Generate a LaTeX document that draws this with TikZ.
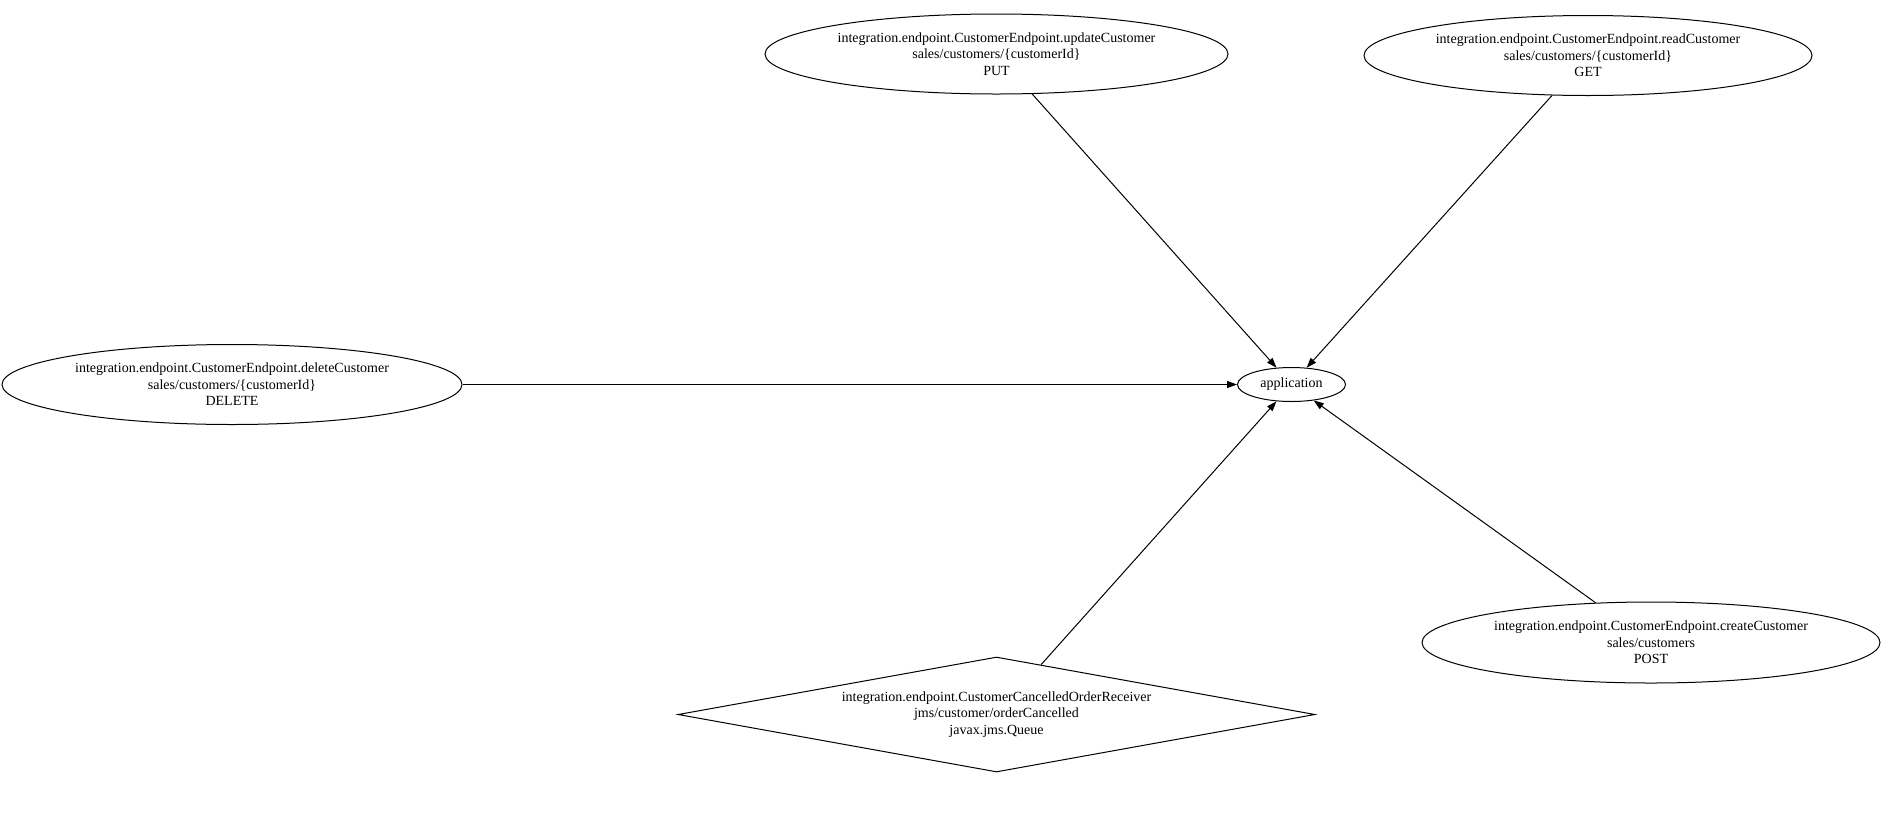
\documentclass[tikz,border=0pt]{standalone}
\usepackage{fontspec}
\setmainfont{Liberation Serif}
\usetikzlibrary{shapes.geometric, arrows.meta}

\begin{document}
\begin{tikzpicture}[x=1pt, y=-1pt,
    every node/.style={font=\fontsize{14}{16.5}\selectfont, align=center, inner sep=0pt},
    endpoint/.style={draw, ellipse, line width=1pt, minimum height=80pt},
    receiver/.style={draw, diamond, aspect=5.5, line width=1pt, minimum width=637pt, minimum height=115pt},
    link/.style={-{Triangle[length=10pt, width=7pt]}, line width=1pt}]
    \useasboundingbox (0,0) rectangle (1893,815);

    % Central node
    \node[draw, ellipse, line width=1pt, minimum width=108pt, minimum height=34pt] (app) at (1291.5,384.5) {application};

    % REST endpoints
    \node[endpoint, minimum width=463pt] (update) at (996.5,54) {integration.endpoint.CustomerEndpoint.updateCustomer\\ sales/customers/\{customerId\}\\ PUT};
    \node[endpoint, minimum width=448pt] (read) at (1588,55.5) {integration.endpoint.CustomerEndpoint.readCustomer\\ sales/customers/\{customerId\}\\ GET};
    \node[endpoint, minimum width=460pt] (delete) at (232,384.5) {integration.endpoint.CustomerEndpoint.deleteCustomer\\ sales/customers/\{customerId\}\\ DELETE};
    \node[endpoint, minimum width=458pt, minimum height=81pt] (create) at (1651,642.5) {integration.endpoint.CustomerEndpoint.createCustomer\\ sales/customers\\ POST};

    % JMS receiver
    \node[receiver] (cancel) at (996.5,714.5) {integration.endpoint.CustomerCancelledOrderReceiver\\ jms/customer/orderCancelled\\ javax.jms.Queue};

    % Edges into application
    \foreach \src in {update, read, delete, create, cancel} {
        \draw[link] (\src) -- (app);
    }
\end{tikzpicture}
\end{document}
